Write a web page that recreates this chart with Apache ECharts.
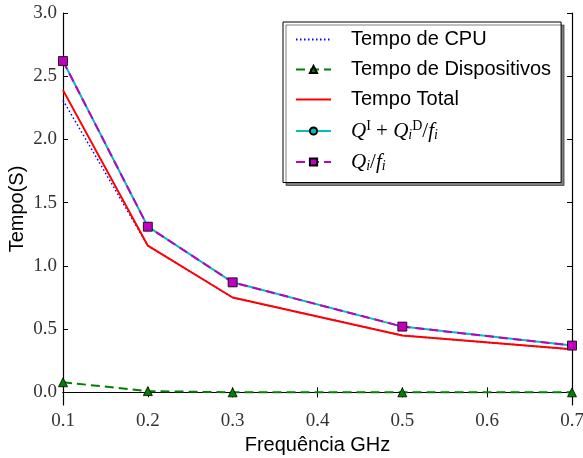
<!DOCTYPE html>
<html><head><meta charset="utf-8">
<script src="https://cdn.jsdelivr.net/npm/echarts@6/dist/echarts.min.js"></script>
<style>html,body{margin:0;padding:0;background:#fff}#c{width:583px;height:458px}</style>
</head><body><div id="c"></div>
<script>
const freq = [0.1, 0.2, 0.3, 0.5, 0.7];
const tempoCPU = [2.31, 1.16, 0.75, 0.45, 0.34];
const tempoDisp = [0.08, 0.01, 0.0, 0.0, 0.0];
const tempoTotal = [2.39, 1.16, 0.75, 0.45, 0.34];
const modelQID = [2.62, 1.31, 0.87, 0.52, 0.37];
const modelQ = [2.62, 1.31, 0.87, 0.52, 0.37];
const xTicks = [0.1, 0.2, 0.3, 0.4, 0.5, 0.6, 0.7];
const yTicks = [0.0, 0.5, 1.0, 1.5, 2.0, 2.5, 3.0];
const names = ['Tempo de CPU', 'Tempo de Dispositivos', 'Tempo Total', 'QID', 'Qf'];

const pair = (xs, ys) => xs.map((x, i) => [x, ys[i]]);
const serif = 'Liberation Serif';
const sans = 'Liberation Sans';

const chart = echarts.init(document.getElementById('c'));
const tickStyle = {inside: true, length: 5, lineStyle: {color: '#000', width: 1}};
chart.setOption({
  animation: false,
  grid: {left: 63, right: 11, top: 13, bottom: 53, containLabel: false, outerBoundsMode: 'none'},
  xAxis: [{
    type: 'value', min: 0.1, max: 0.7, interval: 0.1,
    name: 'Frequência GHz', nameLocation: 'middle', nameGap: 30, nameMoveOverlap: false,
    nameTextStyle: {fontFamily: sans, fontSize: 20, color: '#000'},
    axisLine: {lineStyle: {color: '#000', width: 1.2}},
    axisTick: tickStyle, splitLine: {show: false},
    axisLabel: {fontFamily: serif, fontSize: 19, color: '#333', margin: 7,
      formatter: v => v.toFixed(1)}
  }, {
    type: 'value', position: 'top', min: 0.1, max: 0.7, interval: 0.1,
    axisLine: {lineStyle: {color: '#000', width: 1.2}},
    axisTick: tickStyle, axisLabel: {show: false}, splitLine: {show: false}
  }],
  yAxis: [{
    type: 'value', min: -0.1, max: 3.0,
    name: 'Tempo(S)', nameLocation: 'middle', nameGap: 36, nameRotate: 90, nameMoveOverlap: false,
    nameTextStyle: {fontFamily: sans, fontSize: 20, color: '#000'},
    axisLine: {show: true, lineStyle: {color: '#000', width: 1.2}},
    axisTick: Object.assign({customValues: yTicks}, tickStyle), splitLine: {show: false},
    axisLabel: {customValues: yTicks, fontFamily: serif, fontSize: 19, color: '#333', margin: 6,
      formatter: v => v.toFixed(1)}
  }, {
    type: 'value', position: 'right', min: -0.1, max: 3.0,
    axisLine: {show: true, lineStyle: {color: '#000', width: 1.2}},
    axisTick: Object.assign({customValues: yTicks}, tickStyle),
    axisLabel: {show: false}, splitLine: {show: false}
  }],
  legend: {
    left: 283, top: 22, orient: 'vertical',
    data: [
      {name: names[0], itemStyle: {opacity: 0}},
      {name: names[1]},
      {name: names[2], itemStyle: {opacity: 0}},
      {name: names[3]},
      {name: names[4]}
    ],
    backgroundColor: '#fff', borderColor: '#000', borderWidth: 1,
    shadowColor: 'rgba(0,0,0,0.5)', shadowOffsetX: 3, shadowOffsetY: 3, shadowBlur: 0,
    padding: [7, 10, 9, 12], itemGap: 9, itemWidth: 35, itemHeight: 9,
    textStyle: {fontFamily: sans, fontSize: 20, lineHeight: 21, color: '#000', padding: [0, 0, 0, 15],
      rich: {
        m: {fontFamily: serif, fontStyle: 'italic', fontSize: 21, color: '#000'},
        n: {fontFamily: serif, fontSize: 21, color: '#000'},
        sup: {fontFamily: serif, fontSize: 14, color: '#000', padding: [0, 0, 10, 0]},
        sub: {fontFamily: serif, fontStyle: 'italic', fontSize: 14, color: '#000', padding: [9, 0, 0, 0]}
      }},
    formatter: n => {
      if (n === 'QID') return '{m|Q}{sup|I}{n| + }{m|Q}{sub|i}{sup|D}{n|/}{m|f}{sub|i}';
      if (n === 'Qf') return '{m|Q}{sub|i}{n|/}{m|f}{sub|i}';
      return n;
    }
  },
  series: [
    {name: names[0], type: 'line', data: pair(freq, tempoCPU), symbol: 'none',
      lineStyle: {color: '#0000ff', width: 1.5, type: [1.5, 2.5]}, itemStyle: {color: '#0000ff'}},
    {name: names[1], type: 'line', data: pair(freq, tempoDisp), symbol: 'triangle', symbolSize: 9,
      lineStyle: {color: '#007f00', width: 2, type: [9, 5]},
      itemStyle: {color: '#007f00', borderColor: '#000', borderWidth: 0.8}},
    {name: names[2], type: 'line', data: pair(freq, tempoTotal), symbol: 'none',
      lineStyle: {color: '#ff0000', width: 2}, itemStyle: {color: '#ff0000'}},
    {name: names[3], type: 'line', data: pair(freq, modelQID), symbol: 'circle', symbolSize: 8,
      lineStyle: {color: '#00bfbf', width: 2}, itemStyle: {color: '#00bfbf', borderColor: '#000', borderWidth: 0.8}},
    {name: names[4], type: 'line', data: pair(freq, modelQ), symbol: 'rect', symbolSize: 9,
      lineStyle: {color: '#bf00bf', width: 2, type: [9, 5]},
      itemStyle: {color: '#bf00bf', borderColor: '#000', borderWidth: 0.8}}
  ]
});
</script></body></html>
